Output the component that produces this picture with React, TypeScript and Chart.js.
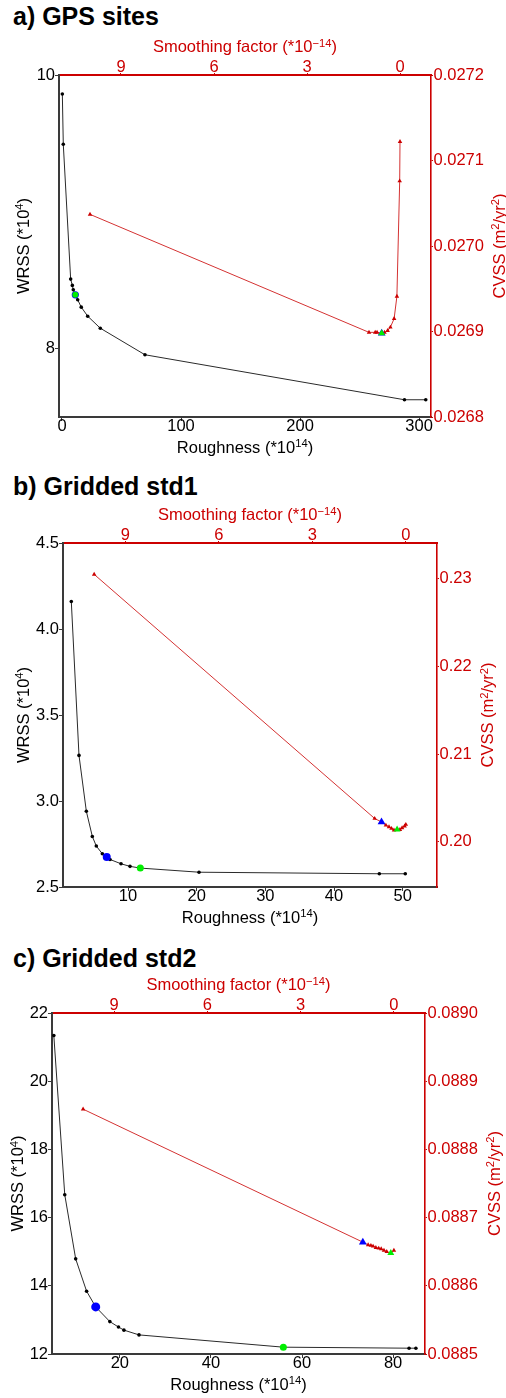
import React, { useEffect, useRef } from 'react';
import { Chart, registerables } from 'chart.js';

Chart.register(...registerables);

const FONT = '"Liberation Sans", Arial, Helvetica, sans-serif';
const RED = 'rgb(204,0,0)';
const RED_LINE = 'rgb(212,50,50)';
const DARK = '#3a3a3a';
const BLUE = 'rgb(0,0,255)';
const GREEN = 'rgb(0,238,0)';

// ---------- a) GPS sites ----------
const roughnessA = [0.3, 1.1, 7.3, 8.7, 9.5, 11.2, 13.2, 16.2, 21.6, 32.2, 69.7, 287.7, 305.6];
const wrssA = [9.861, 9.494, 8.508, 8.462, 8.43, 8.393, 8.357, 8.303, 8.237, 8.149, 7.955, 7.626, 7.626];
const smoothingA = [10, 1.0, 0.8, 0.74, 0.59, 0.5, 0.4, 0.31, 0.19, 0.1, 0.01, 0.0];
const cvssA = [0.027037, 0.026899, 0.026899, 0.026899, 0.026898, 0.026899, 0.026901, 0.026905, 0.026915, 0.026941, 0.027076, 0.027122];
const blueBlackA = 5;
const greenBlackA = 5;
const blueRedA = 4;
const greenRedA = 4;
const roughTicksA = [0, 100, 200, 300];
const wrssTicksA = [8, 10];
const cvssTicksA = [0.0268, 0.0269, 0.027, 0.0271, 0.0272];

// ---------- b) Gridded std1 ----------
const roughnessB = [1.74, 2.86, 3.93, 4.8, 5.38, 6.26, 6.9, 7.38, 8.98, 10.29, 11.79, 20.34, 46.6, 50.38];
const wrssB = [4.16, 3.265, 2.94, 2.794, 2.738, 2.693, 2.674, 2.66, 2.635, 2.62, 2.61, 2.586, 2.577, 2.577];
const smoothingB = [10, 1.0, 0.78, 0.64, 0.54, 0.46, 0.38, 0.28, 0.19, 0.12, 0.04, 0.0];
const cvssB = [0.2305, 0.20267, 0.20228, 0.2019, 0.20171, 0.20153, 0.20134, 0.20142, 0.2014, 0.2016, 0.2018, 0.20199];
const blueBlackB = 6;
const greenBlackB = 10;
const blueRedB = 2;
const greenRedB = 7;
const roughTicksB = [10, 20, 30, 40, 50];
const wrssTicksB = [2.5, 3.0, 3.5, 4.0, 4.5];
const cvssTicksB = [0.2, 0.21, 0.22, 0.23];

// ---------- c) Gridded std2 ----------
const roughnessC = [5.5, 7.9, 10.3, 12.7, 14.7, 17.8, 19.7, 20.9, 24.2, 55.9, 83.5, 85.0];
const wrssC = [21.34, 16.67, 14.79, 13.84, 13.38, 12.95, 12.79, 12.7, 12.56, 12.2, 12.17, 12.17];
const smoothingC = [10, 1.0, 0.83, 0.74, 0.67, 0.58, 0.49, 0.41, 0.32, 0.23, 0.1, 0.0];
const cvssC = [0.088859, 0.088664, 0.08866, 0.088659, 0.088658, 0.088656, 0.088655, 0.088654, 0.088652, 0.08865, 0.088648, 0.088652];
const blueBlackC = 4;
const greenBlackC = 9;
const blueRedC = 1;
const greenRedC = 10;
const roughTicksC = [20, 40, 60, 80];
const wrssTicksC = [12, 14, 16, 18, 20, 22];
const cvssTicksC = [0.0885, 0.0886, 0.0887, 0.0888, 0.0889, 0.089];

const smoothTicks = [0, 3, 6, 9];

type Part = { t: string; sup?: boolean };
const roughTitle: Part[] = [{ t: 'Roughness (*10' }, { t: '14', sup: true }, { t: ')' }];
const smoothTitle: Part[] = [{ t: 'Smoothing factor (*10' }, { t: '\u221214', sup: true }, { t: ')' }];
const wrssTitle: Part[] = [{ t: 'WRSS (*10' }, { t: '4', sup: true }, { t: ')' }];
const cvssTitle: Part[] = [{ t: 'CVSS (m' }, { t: '2', sup: true }, { t: '/yr' }, { t: '2', sup: true }, { t: ')' }];

const FS = 16.5;

function drawRich(ctx: CanvasRenderingContext2D, parts: Part[], x: number, y: number, color: string) {
  const sup = FS * 0.68;
  let total = 0;
  const widths: number[] = [];
  for (const p of parts) {
    ctx.font = `${p.sup ? sup : FS}px ${FONT}`;
    const w = ctx.measureText(p.t).width;
    widths.push(w);
    total += w;
  }
  let cx = x - total / 2;
  ctx.fillStyle = color;
  ctx.textAlign = 'left';
  ctx.textBaseline = 'alphabetic';
  parts.forEach((p, i) => {
    ctx.font = `${p.sup ? sup : FS}px ${FONT}`;
    ctx.fillText(p.t, cx, p.sup ? y - FS * 0.33 : y);
    cx += widths[i];
  });
}

type Cfg = {
  title: string;
  titleTop: number;
  canvasTop: number;
  canvasH: number;
  plotLeft: number;
  plotRight: number;
  xMin: number;
  xMax: number;
  xTicks: number[];
  yMin: number;
  yMax: number;
  yTicks: number[];
  yDec: number;
  y2Min: number;
  y2Max: number;
  y2Ticks: number[];
  y2Dec: number;
  rough: number[];
  wrss: number[];
  sf: number[];
  cvss: number[];
  bB: number;
  gB: number;
  bR: number;
  gR: number;
  blueR: number;
  greenR: number;
  bottomY: number;
  topY: number;
  leftX: number;
  rightX: number;
};

const TOP_BOX = 45;
const BOTTOM_BOX = 43;

const panels: Cfg[] = [
  {
    title: 'a) GPS sites', titleTop: 3.8, canvasTop: 30, canvasH: 430, plotLeft: 59, plotRight: 431,
    xMin: -2.5, xMax: 310, xTicks: roughTicksA, yMin: 7.5, yMax: 10, yTicks: wrssTicksA, yDec: 0,
    y2Min: 0.0268, y2Max: 0.0272, y2Ticks: cvssTicksA, y2Dec: 4,
    rough: roughnessA, wrss: wrssA, sf: smoothingA, cvss: cvssA,
    bB: blueBlackA, gB: greenBlackA, bR: blueRedA, gR: greenRedA, blueR: 3.6, greenR: 3,
    bottomY: 422.5, topY: 22.3, leftX: 28.8, rightX: 504.8,
  },
  {
    title: 'b) Gridded std1', titleTop: 473.8, canvasTop: 498, canvasH: 432, plotLeft: 63, plotRight: 437,
    xMin: 0.53, xMax: 55.0, xTicks: roughTicksB, yMin: 2.5, yMax: 4.5, yTicks: wrssTicksB, yDec: 1,
    y2Min: 0.194863, y2Max: 0.234075, y2Ticks: cvssTicksB, y2Dec: 2,
    rough: roughnessB, wrss: wrssB, sf: smoothingB, cvss: cvssB,
    bB: blueBlackB, gB: greenBlackB, bR: blueRedB, gR: greenRedB, blueR: 4, greenR: 3.5,
    bottomY: 424.5, topY: 22.3, leftX: 28.8, rightX: 493.2,
  },
  {
    title: 'c) Gridded std2', titleTop: 945.5, canvasTop: 968, canvasH: 429, plotLeft: 52, plotRight: 425,
    xMin: 5.1, xMax: 87, xTicks: roughTicksC, yMin: 12, yMax: 22, yTicks: wrssTicksC, yDec: 0,
    y2Min: 0.0885, y2Max: 0.089, y2Ticks: cvssTicksC, y2Dec: 4,
    rough: roughnessC, wrss: wrssC, sf: smoothingC, cvss: cvssC,
    bB: blueBlackC, gB: greenBlackC, bR: blueRedC, gR: greenRedC, blueR: 4.5, greenR: 3.5,
    bottomY: 421.5, topY: 22.3, leftX: 23.2, rightX: 499.8,
  },
];

function tickSetter(values: number[]) {
  return (scale: any) => {
    scale.ticks = values.map((v) => ({ value: v }));
  };
}

function Panel({ cfg }: { cfg: Cfg }) {
  const ref = useRef<HTMLCanvasElement>(null);
  useEffect(() => {
    const canvas = ref.current;
    if (!canvas) return;
    const titles = {
      id: 'axisTitlesRich',
      afterDraw(chart: any) {
        const ctx: CanvasRenderingContext2D = chart.ctx;
        const ca = chart.chartArea;
        const cx = (ca.left + ca.right) / 2;
        const cy = (ca.top + ca.bottom) / 2;
        ctx.save();
        drawRich(ctx, roughTitle, cx, cfg.bottomY, '#000');
        drawRich(ctx, smoothTitle, cx, cfg.topY, RED);
        ctx.save();
        ctx.translate(cfg.leftX, cy);
        ctx.rotate(-Math.PI / 2);
        drawRich(ctx, wrssTitle, 0, 0, '#000');
        ctx.restore();
        ctx.save();
        ctx.translate(cfg.rightX, cy);
        ctx.rotate(-Math.PI / 2);
        drawRich(ctx, cvssTitle, 0, 0, RED);
        ctx.restore();
        ctx.restore();
      },
    };
    const tickFont = { family: FONT, size: FS, lineHeight: 1 };
    const chart = new Chart(canvas, {
      type: 'scatter',
      data: {
        datasets: [
          {
            label: 'green WRSS',
            data: [{ x: cfg.rough[cfg.gB], y: cfg.wrss[cfg.gB] }],
            xAxisID: 'x', yAxisID: 'y',
            pointRadius: cfg.greenR, pointBackgroundColor: GREEN, pointBorderColor: GREEN, pointBorderWidth: 0,
          },
          {
            label: 'blue WRSS',
            data: [{ x: cfg.rough[cfg.bB], y: cfg.wrss[cfg.bB] }],
            xAxisID: 'x', yAxisID: 'y',
            pointRadius: cfg.blueR, pointBackgroundColor: BLUE, pointBorderColor: BLUE, pointBorderWidth: 0,
          },
          {
            label: 'green CVSS',
            data: [{ x: cfg.sf[cfg.gR], y: cfg.cvss[cfg.gR] }],
            xAxisID: 'x2', yAxisID: 'y2', pointStyle: 'triangle',
            pointRadius: 4, pointBackgroundColor: GREEN, pointBorderColor: GREEN, pointBorderWidth: 0,
          },
          {
            label: 'blue CVSS',
            data: [{ x: cfg.sf[cfg.bR], y: cfg.cvss[cfg.bR] }],
            xAxisID: 'x2', yAxisID: 'y2', pointStyle: 'triangle',
            pointRadius: 4.5, pointBackgroundColor: BLUE, pointBorderColor: BLUE, pointBorderWidth: 0,
          },
          {
            label: 'WRSS',
            data: cfg.rough.map((x, i) => ({ x, y: cfg.wrss[i] })),
            xAxisID: 'x', yAxisID: 'y',
            showLine: true, borderColor: '#2a2a2a', borderWidth: 1,
            pointRadius: 1.8, pointBackgroundColor: '#000', pointBorderColor: '#000', pointBorderWidth: 0,
          },
          {
            label: 'CVSS',
            data: cfg.sf.map((x, i) => ({ x, y: cfg.cvss[i] })),
            xAxisID: 'x2', yAxisID: 'y2',
            showLine: true, borderColor: RED_LINE, borderWidth: 1, pointStyle: 'triangle',
            pointRadius: 2.6, pointBackgroundColor: RED, pointBorderColor: RED, pointBorderWidth: 0,
          },
        ],
      },
      options: {
        responsive: false,
        animation: false,
        devicePixelRatio: 1,
        layout: { padding: 0 },
        plugins: { legend: { display: false }, tooltip: { enabled: false }, title: { display: false } },
        scales: {
          x: {
            type: 'linear', axis: 'x', position: 'bottom', min: cfg.xMin, max: cfg.xMax,
            afterBuildTicks: tickSetter(cfg.xTicks),
            afterFit: (s: any) => { s.height = BOTTOM_BOX; },
            grid: { display: true, drawOnChartArea: false, drawTicks: true, tickLength: 4, tickColor: DARK, tickWidth: 1 },
            border: { display: true, color: DARK, width: 2 },
            ticks: { color: '#000', font: tickFont, padding: -2.5, maxRotation: 0, autoSkip: false, callback: (v: any) => String(v) },
            title: { display: false },
          },
          x2: {
            type: 'linear', axis: 'x', position: 'top', min: -1, max: 11, reverse: true,
            afterBuildTicks: tickSetter(smoothTicks),
            afterFit: (s: any) => { s.height = TOP_BOX; },
            grid: { display: true, drawOnChartArea: false, drawTicks: true, tickLength: 2, tickColor: RED, tickWidth: 1 },
            border: { display: true, color: RED, width: 2 },
            ticks: { color: RED, font: tickFont, padding: -3.2, maxRotation: 0, autoSkip: false, callback: (v: any) => String(v) },
            title: { display: false },
          },
          y: {
            type: 'linear', axis: 'y', position: 'left', min: cfg.yMin, max: cfg.yMax,
            afterBuildTicks: tickSetter(cfg.yTicks),
            afterFit: (s: any) => { s.width = cfg.plotLeft; },
            grid: { display: true, drawOnChartArea: false, drawTicks: true, tickLength: 4, tickColor: DARK, tickWidth: 1 },
            border: { display: true, color: DARK, width: 2 },
            ticks: { color: '#000', font: tickFont, padding: 0, autoSkip: false, callback: (v: any) => Number(v).toFixed(cfg.yDec) },
            title: { display: false },
          },
          y2: {
            type: 'linear', axis: 'y', position: 'right', min: cfg.y2Min, max: cfg.y2Max,
            afterBuildTicks: tickSetter(cfg.y2Ticks),
            afterFit: (s: any) => { s.width = 506 - cfg.plotRight; },
            grid: { display: true, drawOnChartArea: false, drawTicks: true, tickLength: 2, tickColor: RED, tickWidth: 1 },
            border: { display: true, color: RED, width: 1.6 },
            ticks: { color: RED, font: tickFont, padding: 0.5, autoSkip: false, callback: (v: any) => Number(v).toFixed(cfg.y2Dec) },
            title: { display: false },
          },
        },
      } as any,
      plugins: [titles as any],
    });
    return () => chart.destroy();
  }, [cfg]);
  return (
    <>
      <div
        style={{
          position: 'absolute', left: 13, top: cfg.titleTop, font: `bold 25px ${FONT}`, lineHeight: '25px',
          whiteSpace: 'nowrap', color: '#000',
        }}
      >
        {cfg.title}
      </div>
      <canvas
        ref={ref}
        width={506}
        height={cfg.canvasH}
        style={{ position: 'absolute', left: 0, top: cfg.canvasTop, width: 506, height: cfg.canvasH, display: 'block' }}
      />
    </>
  );
}

export default function App() {
  return (
    <div style={{ position: 'absolute', left: 0, top: 0, width: 506, height: 1398, background: '#fff', overflow: 'hidden' }}>
      {panels.map((p) => (
        <Panel key={p.title} cfg={p} />
      ))}
    </div>
  );
}
